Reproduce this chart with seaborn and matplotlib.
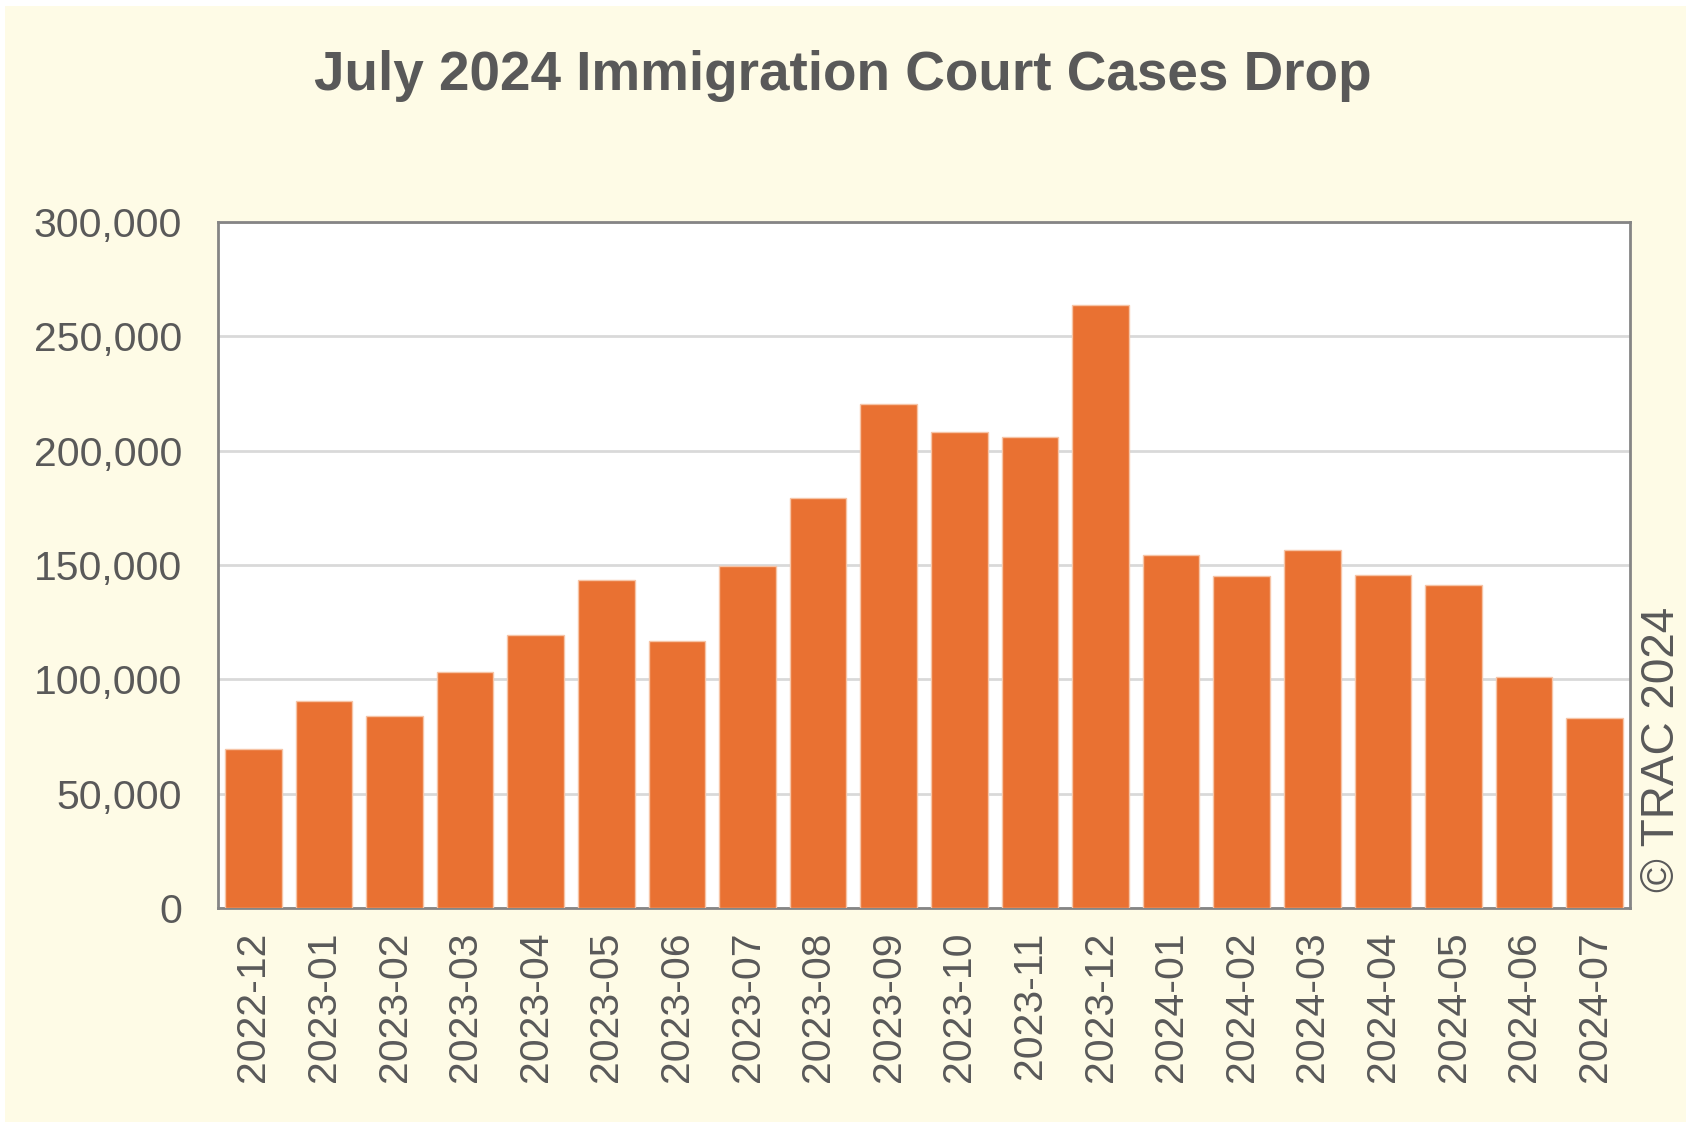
import matplotlib
matplotlib.use('Agg')
from matplotlib import pyplot as plt
from matplotlib.patches import Rectangle
import seaborn as sb
import pandas as pd

months = ['2022-12', '2023-01', '2023-02', '2023-03', '2023-04', '2023-05', '2023-06',
          '2023-07', '2023-08', '2023-09', '2023-10', '2023-11', '2023-12', '2024-01',
          '2024-02', '2024-03', '2024-04', '2024-05', '2024-06', '2024-07']
cases = [69500, 90500, 84000, 103400, 119500, 143400, 116900, 149600, 179300, 220300,
         208000, 206000, 263700, 154400, 145200, 156600, 145600, 141400, 101000, 83100]

title = 'July 2024 Immigration Court Cases Drop'
credit = '\u00a9 TRAC 2024'

text_col = '#595959'
bar_col = '#E97132'
cream = '#FEFBE6'

sb.set_style('white')
plt.rcParams['font.family'] = ['Liberation Sans', 'DejaVu Sans']

df = pd.DataFrame({'month': months, 'cases': cases})

fig = plt.figure(figsize=(16.86, 11.22), dpi=100, facecolor='white')
fig.patches.append(Rectangle((0.003, 0.0), 0.997, 0.995, transform=fig.transFigure,
                             facecolor=cream, edgecolor='none', zorder=-1))
ax = fig.add_axes([0.1293, 0.1907, 0.8375, 0.6114])
ax.set_facecolor('white')

sb.barplot(data=df, x='month', y='cases', color=bar_col, width=0.8, saturation=1,
           edgecolor='#F6C4A6', linewidth=1, ax=ax, zorder=3)

ax.set_ylim(0, 300000)
ax.set_xlim(-0.5, len(months) - 0.5)
ax.set_yticks(range(0, 300001, 50000))
ax.set_yticklabels(['{:,}'.format(v) for v in range(0, 300001, 50000)])
ax.yaxis.grid(True, color='#D9D9D9', linewidth=2, zorder=0)
ax.set_axisbelow(True)
ax.tick_params(axis='y', length=0, pad=26, labelsize=29.5, labelcolor=text_col)
ax.tick_params(axis='x', length=0, pad=17, labelsize=29.5, labelcolor=text_col, labelrotation=90)
ax.set_xlabel('')
ax.set_ylabel('')
for s in ax.spines.values():
    s.set_color('#858585')
    s.set_linewidth(2)

fig.text(0.5, 0.932, title, ha='center', va='center', fontsize=39.5, fontweight='bold',
         color=text_col)
fig.text(0.986, 0.205, credit, rotation=90, ha='center', va='bottom', fontsize=33,
         color=text_col)

plt.savefig('out.png', dpi=100, facecolor=fig.get_facecolor())
